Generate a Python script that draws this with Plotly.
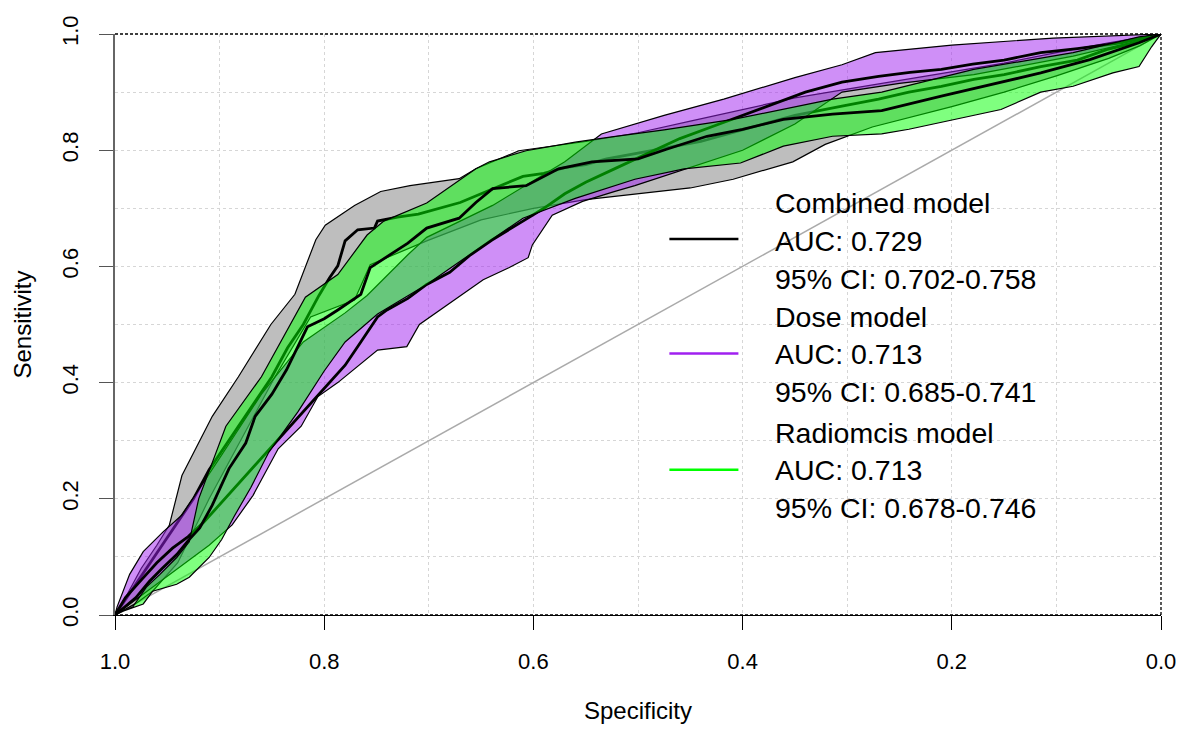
import plotly.graph_objects as go

# ---------------- data (specificity, sensitivity) ----------------
# Combined model 95% CI band (grey)
comb_ci_up_spec = [1.0, 0.99, 0.975, 0.96, 0.948, 0.936, 0.907, 0.882, 0.851, 0.828, 0.808, 0.799, 0.771, 0.746, 0.718, 0.671, 0.655, 0.614, 0.55, 0.5, 0.45, 0.4, 0.35, 0.3, 0.25, 0.2, 0.15, 0.1, 0.05, 0.0]
comb_ci_up_sens = [0.0, 0.03, 0.08, 0.12, 0.155, 0.24, 0.342, 0.41, 0.50, 0.552, 0.646, 0.671, 0.705, 0.729, 0.739, 0.751, 0.768, 0.799, 0.815, 0.83, 0.85, 0.87, 0.89, 0.905, 0.92, 0.935, 0.95, 0.968, 0.985, 1.0]
comb_ci_lo_spec = [1.0, 0.98, 0.964, 0.94, 0.91, 0.88, 0.847, 0.813, 0.771, 0.756, 0.702, 0.65, 0.6, 0.55, 0.503, 0.45, 0.409, 0.352, 0.321, 0.276, 0.2, 0.15, 0.1, 0.05, 0.02, 0.0]
comb_ci_lo_sens = [0.0, 0.02, 0.041, 0.09, 0.2, 0.3, 0.41, 0.513, 0.542, 0.603, 0.644, 0.68, 0.70, 0.715, 0.725, 0.735, 0.75, 0.78, 0.81, 0.84, 0.875, 0.9, 0.928, 0.958, 0.98, 1.0]

# Dose model 95% CI band (purple)
dose_ci_up_spec = [1.0, 0.998, 0.986, 0.973, 0.954, 0.936, 0.9, 0.86, 0.82, 0.78, 0.759, 0.72, 0.702, 0.639, 0.57, 0.535, 0.475, 0.418, 0.35, 0.305, 0.273, 0.2, 0.103, 0.021, 0.0]
dose_ci_up_sens = [0.0, 0.014, 0.07, 0.109, 0.143, 0.172, 0.27, 0.38, 0.47, 0.52, 0.55, 0.62, 0.65, 0.705, 0.78, 0.828, 0.86, 0.888, 0.925, 0.947, 0.968, 0.981, 0.993, 0.998, 1.0]
dose_ci_lo_spec = [1.0, 0.97, 0.94, 0.91, 0.888, 0.868, 0.844, 0.822, 0.806, 0.787, 0.749, 0.721, 0.709, 0.686, 0.648, 0.623, 0.605, 0.601, 0.582, 0.553, 0.522, 0.503, 0.45, 0.4, 0.35, 0.305, 0.25, 0.179, 0.084, 0.03, 0.0]
dose_ci_lo_sens = [0.0, 0.04, 0.08, 0.12, 0.155, 0.206, 0.286, 0.325, 0.376, 0.40, 0.456, 0.462, 0.5, 0.53, 0.577, 0.598, 0.615, 0.637, 0.688, 0.712, 0.729, 0.739, 0.77, 0.8, 0.845, 0.9, 0.915, 0.93, 0.962, 0.985, 1.0]

# Radiomics model 95% CI band (green)
rad_ci_up_spec = [1.0, 0.983, 0.97, 0.957, 0.941, 0.929, 0.92, 0.894, 0.86, 0.818, 0.787, 0.759, 0.743, 0.714, 0.702, 0.655, 0.642, 0.607, 0.56, 0.525, 0.475, 0.409, 0.314, 0.267, 0.179, 0.084, 0.021, 0.0]
rad_ci_up_sens = [0.0, 0.014, 0.048, 0.07, 0.099, 0.126, 0.2, 0.325, 0.41, 0.547, 0.586, 0.654, 0.678, 0.70, 0.709, 0.768, 0.78, 0.799, 0.814, 0.823, 0.835, 0.853, 0.888, 0.90, 0.939, 0.968, 0.995, 1.0]
rad_ci_lo_spec = [1.0, 0.995, 0.973, 0.964, 0.941, 0.929, 0.91, 0.898, 0.886, 0.87, 0.853, 0.825, 0.8, 0.78, 0.749, 0.702, 0.661, 0.61, 0.56, 0.503, 0.456, 0.402, 0.361, 0.314, 0.267, 0.241, 0.153, 0.115, 0.084, 0.046, 0.021, 0.009, 0.0]
rad_ci_lo_sens = [0.0, 0.005, 0.019, 0.041, 0.053, 0.065, 0.099, 0.13, 0.17, 0.22, 0.28, 0.35, 0.42, 0.47, 0.518, 0.569, 0.62, 0.683, 0.717, 0.75, 0.768, 0.778, 0.807, 0.824, 0.828, 0.836, 0.87, 0.9, 0.91, 0.933, 0.944, 0.978, 1.0]

# ROC curves
comb_spec = [1.0, 0.985, 0.97, 0.955, 0.94, 0.925, 0.91, 0.895, 0.88, 0.865, 0.85, 0.835, 0.82, 0.805, 0.795, 0.787, 0.78, 0.768, 0.752, 0.749, 0.73, 0.71, 0.69, 0.67, 0.65, 0.63, 0.61, 0.59, 0.57, 0.55, 0.53, 0.5, 0.47, 0.44, 0.41, 0.38, 0.35, 0.305, 0.27, 0.241, 0.21, 0.179, 0.15, 0.115, 0.08, 0.052, 0.025, 0.0]
comb_sens = [0.0, 0.04, 0.08, 0.12, 0.16, 0.2, 0.25, 0.29, 0.33, 0.37, 0.41, 0.46, 0.5, 0.55, 0.58, 0.601, 0.644, 0.663, 0.666, 0.678, 0.685, 0.69, 0.70, 0.71, 0.725, 0.74, 0.755, 0.76, 0.77, 0.775, 0.785, 0.795, 0.805, 0.815, 0.83, 0.845, 0.86, 0.876, 0.888, 0.9, 0.91, 0.922, 0.93, 0.944, 0.955, 0.973, 0.985, 1.0]

dose_spec = [1.0, 0.99, 0.975, 0.96, 0.945, 0.93, 0.915, 0.9, 0.885, 0.87, 0.855, 0.84, 0.825, 0.81, 0.795, 0.78, 0.765, 0.749, 0.74, 0.72, 0.702, 0.68, 0.66, 0.64, 0.61, 0.59, 0.57, 0.55, 0.52, 0.49, 0.46, 0.43, 0.4, 0.37, 0.34, 0.305, 0.27, 0.24, 0.21, 0.18, 0.15, 0.115, 0.08, 0.037, 0.0]
dose_sens = [0.0, 0.03, 0.06, 0.09, 0.115, 0.135, 0.16, 0.19, 0.22, 0.25, 0.28, 0.31, 0.34, 0.37, 0.40, 0.43, 0.47, 0.513, 0.525, 0.545, 0.569, 0.59, 0.62, 0.645, 0.678, 0.70, 0.725, 0.745, 0.77, 0.795, 0.82, 0.84, 0.86, 0.88, 0.90, 0.917, 0.927, 0.934, 0.939, 0.948, 0.955, 0.968, 0.975, 0.985, 1.0]

rad_spec = [1.0, 0.995, 0.98, 0.967, 0.955, 0.941, 0.93, 0.919, 0.907, 0.891, 0.875, 0.866, 0.85, 0.836, 0.816, 0.8, 0.787, 0.765, 0.756, 0.737, 0.72, 0.702, 0.671, 0.655, 0.639, 0.607, 0.576, 0.544, 0.5, 0.472, 0.434, 0.4, 0.361, 0.314, 0.267, 0.21, 0.163, 0.115, 0.068, 0.021, 0.0]
rad_sens = [0.0, 0.007, 0.03, 0.058, 0.08, 0.104, 0.128, 0.15, 0.189, 0.252, 0.296, 0.342, 0.38, 0.422, 0.496, 0.51, 0.525, 0.552, 0.598, 0.62, 0.64, 0.666, 0.683, 0.71, 0.734, 0.739, 0.768, 0.78, 0.785, 0.802, 0.824, 0.836, 0.853, 0.862, 0.868, 0.893, 0.913, 0.933, 0.956, 0.985, 1.0]

diag_spec = [1.0, 0.0]
diag_sens = [0.0, 1.0]

legend_titles = ["Combined model", "Dose model", "Radiomcis model"]
legend_auc = ["AUC: 0.729", "AUC: 0.713", "AUC: 0.713"]
legend_ci = ["95% CI: 0.702-0.758", "95% CI: 0.685-0.741", "95% CI: 0.678-0.746"]
legend_colors = ["#000000", "#A020F0", "#00FF00"]

x_ticks = [1.0, 0.8, 0.6, 0.4, 0.2, 0.0]
y_ticks = [0.0, 0.2, 0.4, 0.6, 0.8, 1.0]

FONT = "Liberation Sans, Arial, sans-serif"

fig = go.Figure()

# diagonal
fig.add_trace(go.Scatter(x=diag_spec, y=diag_sens, mode="lines",
                         line=dict(color="#aaaaaa", width=1.5), hoverinfo="skip", showlegend=False))


def band(up_x, up_y, lo_x, lo_y, fill):
    xs = list(up_x) + list(reversed(lo_x))
    ys = list(up_y) + list(reversed(lo_y))
    return go.Scatter(x=xs, y=ys, mode="lines", fill="toself", fillcolor=fill,
                      line=dict(color="#000000", width=1.2), hoverinfo="skip", showlegend=False)


def curve(xs, ys):
    return go.Scatter(x=xs, y=ys, mode="lines", line=dict(color="#000000", width=2.8),
                      hoverinfo="skip", showlegend=False)


fig.add_trace(band(comb_ci_up_spec, comb_ci_up_sens, comb_ci_lo_spec, comb_ci_lo_sens, "#BEBEBE"))
fig.add_trace(curve(comb_spec, comb_sens))
fig.add_trace(band(dose_ci_up_spec, dose_ci_up_sens, dose_ci_lo_spec, dose_ci_lo_sens, "rgba(160,32,240,0.5)"))
fig.add_trace(curve(dose_spec, dose_sens))
fig.add_trace(band(rad_ci_up_spec, rad_ci_up_sens, rad_ci_lo_spec, rad_ci_lo_sens, "rgba(0,255,0,0.5)"))
fig.add_trace(curve(rad_spec, rad_sens))

# legend (manual)
line_y = [0.647, 0.45, 0.25]
text_rows = [[0.709, 0.644, 0.579], [0.513, 0.45, 0.383], [0.313, 0.25, 0.184]]
shapes = []
annotations = []
for i in range(3):
    shapes.append(dict(type="line", xref="paper", yref="paper", x0=0.530, x1=0.596,
                       y0=line_y[i], y1=line_y[i], line=dict(color=legend_colors[i], width=2.5)))
    for txt, yy in zip([legend_titles[i], legend_auc[i], legend_ci[i]], text_rows[i]):
        annotations.append(dict(xref="paper", yref="paper", x=0.629, y=yy, text=txt,
                                showarrow=False, xanchor="left", yanchor="middle",
                                font=dict(family=FONT, size=28.5, color="#000000")))

# frame (dashed)
for (x0, y0, x1, y1) in [(0, 1, 1, 1), (1, 0, 1, 1), (0, 0, 1, 0)]:
    shapes.append(dict(type="line", xref="paper", yref="paper", x0=x0, y0=y0, x1=x1, y1=y1,
                       line=dict(color="#000000", width=1.3, dash="3px,2px"), layer="above"))

fig.update_layout(
    width=1188, height=731,
    margin=dict(l=115, r=16, t=34, b=110),
    paper_bgcolor="white", plot_bgcolor="white",
    font=dict(family=FONT, color="#000000"),
    shapes=shapes, annotations=annotations,
    showlegend=False,
)

fig.update_xaxes(
    range=[1.0, 0.0], tickvals=x_ticks, ticktext=["%.1f" % v for v in x_ticks],
    ticks="outside", ticklen=14, tickcolor="#000000", tickwidth=1.3,
    showline=True, linecolor="#000000", linewidth=1,
    showgrid=True, gridcolor="#d6d6d6", griddash="dot", gridwidth=1,
    minor=dict(dtick=0.1, showgrid=True, gridcolor="#d6d6d6", griddash="dot", ticks=""),
    zeroline=False, tickfont=dict(size=22, family=FONT), ticklabelstandoff=13,
    title=dict(text="Specificity", font=dict(size=24, family=FONT), standoff=28),
)
fig.update_yaxes(
    range=[0.0, 1.0], tickvals=y_ticks, ticktext=["%.1f" % v for v in y_ticks],
    ticks="outside", ticklen=14, tickcolor="#555555", tickwidth=1.3, tickangle=-90,
    showline=True, linecolor="#666666", linewidth=1.5,
    showgrid=True, gridcolor="#d6d6d6", griddash="dot", gridwidth=1,
    minor=dict(dtick=0.1, showgrid=True, gridcolor="#d6d6d6", griddash="dot", ticks=""),
    zeroline=False, tickfont=dict(size=22, family=FONT), ticklabelstandoff=12,
    title=dict(text="Sensitivity", font=dict(size=24, family=FONT), standoff=20),
)

fig.write_html("out.html")
